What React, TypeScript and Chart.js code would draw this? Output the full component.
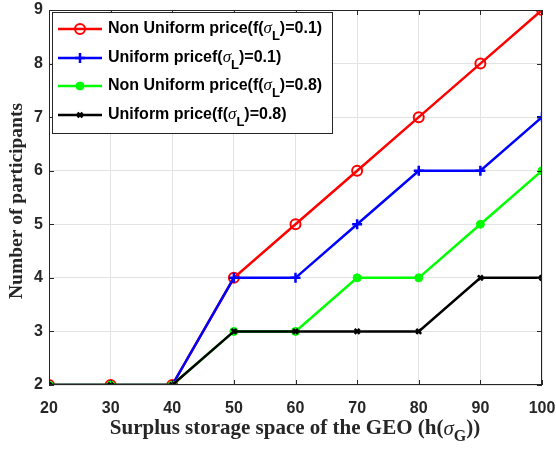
import React, { useEffect, useRef } from "react";
import { Chart, registerables } from "chart.js";
Chart.register(...registerables);

const xValues = [20, 30, 40, 50, 60, 70, 80, 90, 100];
const nonUniform01 = [2, 2, 2, 4, 5, 6, 7, 8, 9];
const uniform01 = [2, 2, 2, 4, 4, 5, 6, 6, 7];
const nonUniform08 = [2, 2, 2, 3, 3, 4, 4, 5, 6];
const uniform08 = [2, 2, 2, 3, 3, 3, 3, 4, 4];
const seriesNames = [
  ["Non Uniform price(f(", ")=0.1)"],
  ["Uniform pricef(", ")=0.1)"],
  ["Non Uniform price(f(", ")=0.8)"],
  ["Uniform price(f(", ")=0.8)"],
];
const yTitle = "Number of participants";
const xTitleParts = ["Surplus storage space of the GEO (h(", "σ", "G", "))"];

const LEFT = 49, RIGHT = 542, TOP = 10, BOTTOM = 385;

function drawRich(ctx: CanvasRenderingContext2D, x: number, y: number, pre: string, sig: string, sub: string, post: string, font: string, sigFont: string, subFont: string, subDy: number) {
  ctx.textBaseline = "middle";
  ctx.textAlign = "left";
  ctx.font = font;
  ctx.fillText(pre, x, y);
  x += ctx.measureText(pre).width;
  ctx.font = sigFont;
  ctx.fillText(sig, x, y);
  x += ctx.measureText(sig).width;
  ctx.font = subFont;
  ctx.fillText(sub, x, y + subDy);
  x += ctx.measureText(sub).width;
  ctx.font = font;
  ctx.fillText(post, x, y);
  x += ctx.measureText(post).width;
  return x;
}

function drawMarker(ctx: CanvasRenderingContext2D, style: string, r: number, x: number, y: number, color: string, fill: boolean, bw: number) {
  ctx.save();
  ctx.strokeStyle = color;
  ctx.fillStyle = color;
  ctx.lineWidth = bw;
  ctx.beginPath();
  if (style === "circle") {
    ctx.arc(x, y, r, 0, Math.PI * 2);
    if (fill) ctx.fill();
    ctx.stroke();
  } else if (style === "cross") {
    ctx.moveTo(x - r, y); ctx.lineTo(x + r, y);
    ctx.moveTo(x, y - r); ctx.lineTo(x, y + r);
    ctx.stroke();
  } else {
    const d = r * Math.SQRT1_2;
    ctx.moveTo(x - d, y - d); ctx.lineTo(x + d, y + d);
    ctx.moveTo(x - d, y + d); ctx.lineTo(x + d, y - d);
    ctx.stroke();
  }
  ctx.restore();
}

const decor = {
  id: "decor",
  afterDraw(chart: any) {
    const ctx = chart.ctx as CanvasRenderingContext2D;
    const a = chart.chartArea;
    const xs = chart.scales.x, ys = chart.scales.y;
    ctx.save();
    ctx.strokeStyle = "#262626";
    ctx.lineWidth = 1;
    ctx.strokeRect(a.left + 0.5, a.top + 0.5, a.right - a.left - 1, a.bottom - a.top - 1);
    ctx.beginPath();
    for (const v of xValues) {
      const px = Math.round(xs.getPixelForValue(v)) + 0.5;
      ctx.moveTo(px, a.bottom); ctx.lineTo(px, a.bottom - 5);
      ctx.moveTo(px, a.top); ctx.lineTo(px, a.top + 5);
    }
    for (let v = 2; v <= 9; v++) {
      const py = Math.round(ys.getPixelForValue(v)) + 0.5;
      ctx.moveTo(a.left, py); ctx.lineTo(a.left + 5, py);
      ctx.moveTo(a.right, py); ctx.lineTo(a.right - 5, py);
    }
    ctx.stroke();

    ctx.fillStyle = "#262626";
    ctx.save();
    ctx.translate(17, 201);
    ctx.rotate(-Math.PI / 2);
    ctx.font = "bold 19.5px 'Liberation Serif', 'Times New Roman', serif";
    ctx.textAlign = "center";
    ctx.textBaseline = "middle";
    ctx.fillText(yTitle, 0, 0);
    ctx.restore();

    const tf = "bold 21px 'Liberation Serif', serif";
    const sf = "italic 21px 'Liberation Serif', serif";
    const subf = "bold 16px 'Liberation Serif', serif";
    ctx.font = tf;
    let w = ctx.measureText(xTitleParts[0]).width + ctx.measureText(xTitleParts[3]).width;
    ctx.font = sf; w += ctx.measureText(xTitleParts[1]).width;
    ctx.font = subf; w += ctx.measureText(xTitleParts[2]).width;
    drawRich(ctx, 295 - w / 2, 429, xTitleParts[0], xTitleParts[1], xTitleParts[2], xTitleParts[3], tf, sf, subf, 8);

    const lx = 52, ly = 12, lw = 280, lh = 121;
    ctx.fillStyle = "#ffffff";
    ctx.fillRect(lx, ly, lw, lh);
    ctx.strokeStyle = "#262626";
    ctx.lineWidth = 1;
    ctx.strokeRect(lx + 0.5, ly + 0.5, lw, lh);
    const rows = [29, 58, 86, 115];
    chart.data.datasets.forEach((ds: any, i: number) => {
      const y = rows[i];
      ctx.strokeStyle = ds.borderColor;
      ctx.lineWidth = 2.5;
      ctx.beginPath();
      ctx.moveTo(58, y); ctx.lineTo(102, y);
      ctx.stroke();
      drawMarker(ctx, ds.pointStyle, ds.pointRadius, 80, y, ds.borderColor, ds.pointBackgroundColor === ds.borderColor, ds.pointBorderWidth);
      ctx.fillStyle = "#000000";
      drawRich(ctx, 108, y, seriesNames[i][0], "σ", "L", seriesNames[i][1],
        "bold 16px 'Liberation Sans', Arial, sans-serif",
        "italic 17px 'Liberation Serif', serif",
        "bold 13px 'Liberation Sans', Arial, sans-serif", 7);
    });
    ctx.restore();
  },
};

export default function App() {
  const ref = useRef<HTMLCanvasElement>(null);
  useEffect(() => {
    document.body.style.margin = "0";
    const mk = (vals: number[]) => xValues.map((x, i) => ({ x, y: vals[i] }));
    const chart = new Chart(ref.current!, {
      type: "line",
      data: {
        datasets: [
          { order: 4, data: mk(nonUniform01), borderColor: "#ff0000", backgroundColor: "rgba(0,0,0,0)", pointBorderColor: "#ff0000", pointBackgroundColor: "rgba(0,0,0,0)", pointStyle: "circle", pointRadius: 5, pointBorderWidth: 2, borderWidth: 2.5 },
          { order: 3, data: mk(uniform01), borderColor: "#0000ff", backgroundColor: "#0000ff", pointBorderColor: "#0000ff", pointBackgroundColor: "#0000ff", pointStyle: "cross", pointRadius: 5, pointBorderWidth: 2.5, borderWidth: 2.5 },
          { order: 2, data: mk(nonUniform08), borderColor: "#00ff00", backgroundColor: "#00ff00", pointBorderColor: "#00ff00", pointBackgroundColor: "#00ff00", pointStyle: "circle", pointRadius: 4, pointBorderWidth: 1, borderWidth: 2.5 },
          { order: 1, data: mk(uniform08), borderColor: "#000000", backgroundColor: "#000000", pointBorderColor: "#000000", pointBackgroundColor: "#000000", pointStyle: "crossRot", pointRadius: 3.5, pointBorderWidth: 2.5, borderWidth: 2.5 },
        ] as any,
      },
      options: {
        animation: false,
        responsive: false,
        maintainAspectRatio: false,
        layout: { padding: { left: 0, right: 556 - RIGHT, top: TOP, bottom: 0 } },
        plugins: { legend: { display: false }, tooltip: { enabled: false } },
        scales: {
          x: {
            type: "linear", min: 20, max: 100,
            ticks: { stepSize: 10, color: "#262626", font: { family: "'Liberation Sans', Arial", weight: "bold", size: 16 }, padding: 14, maxRotation: 0 },
            grid: { color: "#e3e3e3", drawTicks: false },
            border: { display: false },
            afterFit: (s: any) => { s.height = 449 - BOTTOM; s.paddingLeft = 0; s.paddingRight = 0; },
          },
          y: {
            type: "linear", min: 2, max: 9,
            ticks: { stepSize: 1, color: "#262626", font: { family: "'Liberation Sans', Arial", weight: "bold", size: 16 }, padding: 6 },
            grid: { color: "#e3e3e3", drawTicks: false },
            border: { display: false },
            afterFit: (s: any) => { s.width = LEFT; s.paddingTop = 0; s.paddingBottom = 0; },
          },
        },
      } as any,
      plugins: [decor],
    });
    return () => chart.destroy();
  }, []);
  return <canvas ref={ref} width={556} height={449} style={{ display: "block", width: 556, height: 449 }} />;
}
